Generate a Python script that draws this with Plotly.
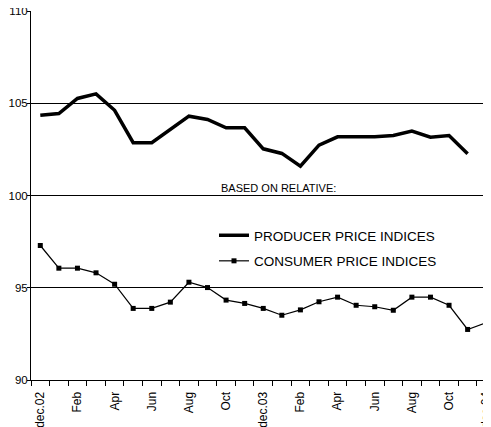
import plotly.graph_objects as go

months = ["dec.02", "jan.03", "feb.03", "mar.03", "apr.03", "may.03", "jun.03", "jul.03",
          "aug.03", "sep.03", "oct.03", "nov.03", "dec.03", "jan.04", "feb.04", "mar.04",
          "apr.04", "may.04", "jun.04", "jul.04", "aug.04", "sep.04", "oct.04", "nov.04",
          "dec.04"]
tick_labels = ["dec.02", "Feb", "Apr", "Jun", "Aug", "Oct", "dec.03",
               "Feb", "Apr", "Jun", "Aug", "Oct", "dec.04"]

producer = [104.35, 104.44, 105.26, 105.51, 104.62, 102.86, 102.86, 103.58, 104.30,
            104.12, 103.67, 103.67, 102.53, 102.28, 101.59, 102.73, 103.18, 103.18,
            103.18, 103.25, 103.49, 103.16, 103.25, 102.26]
consumer = [97.29, 96.06, 96.06, 95.81, 95.19, 93.88, 93.88, 94.22, 95.30, 95.01,
            94.33, 94.15, 93.88, 93.51, 93.80, 94.24, 94.49, 94.05, 93.97, 93.78,
            94.49, 94.49, 94.05, 92.74, 93.10]

x_prod = list(range(len(producer)))
x_cons = list(range(len(consumer)))
tick_pos = list(range(0, len(months), 2))
boundaries = [i - 0.5 for i in range(len(months) + 1)]

FONT = "Liberation Sans, Arial, sans-serif"
PLOT_W = 460
PLOT_H = 369

fig = go.Figure()
fig.add_trace(go.Scatter(
    x=x_prod, y=producer, mode="lines", name="PRODUCER PRICE INDICES",
    line=dict(color="black", width=3.5), legendgroup="a"))
fig.add_trace(go.Scatter(
    x=x_cons, y=consumer, mode="lines+markers", name="CONSUMER PRICE INDICES",
    line=dict(color="black", width=1.2),
    marker=dict(symbol="square", size=5, color="black"), legendgroup="b"))

fig.add_annotation(x=(219 - 31) / PLOT_W, y=100, xref="paper", yref="y",
                   text="BASED ON RELATIVE:", showarrow=False,
                   xanchor="left", yanchor="bottom",
                   font=dict(family=FONT, size=11, color="black"))

fig.update_layout(
    width=483, height=419,
    margin=dict(l=23, r=0, t=3, b=47, autoexpand=False),
    paper_bgcolor="white", plot_bgcolor="white",
    font=dict(family=FONT, size=12, color="black"),
    showlegend=True,
    legend=dict(x=(214 - 31) / PLOT_W, y=(380 - 220) / PLOT_H, xanchor="left", yanchor="top",
                bgcolor="rgba(0,0,0,0)", font=dict(family=FONT, size=13.5, color="black"),
                tracegroupgap=5, itemwidth=30),
    xaxis=dict(
        range=[-0.5, -0.5 + PLOT_W / 18.58],
        tickmode="array", tickvals=tick_pos, ticktext=tick_labels,
        tickangle=-90, ticks="outside", ticklen=6, tickcolor="rgba(0,0,0,0)",
        showgrid=False, zeroline=False, automargin=False,
        showline=True, linecolor="black", linewidth=1,
        tickfont=dict(family=FONT, size=12, color="black"),
        ticklabeloverflow="allow",
        minor=dict(tickmode="array", tickvals=boundaries, ticks="outside",
                   ticklen=5, tickcolor="black", showgrid=False),
    ),
    yaxis=dict(
        range=[90, 110], tickmode="array", tickvals=[90, 95, 100, 105, 110],
        ticks="outside", ticklen=3, tickcolor="black", ticklabelstandoff=-3,
        showgrid=True, gridcolor="black", gridwidth=1, zeroline=False, automargin=False,
        showline=True, linecolor="black", linewidth=1,
        tickfont=dict(family=FONT, size=11.5, color="black"),
        ticklabeloverflow="allow",
    ),
)

fig.write_html("out.html")
